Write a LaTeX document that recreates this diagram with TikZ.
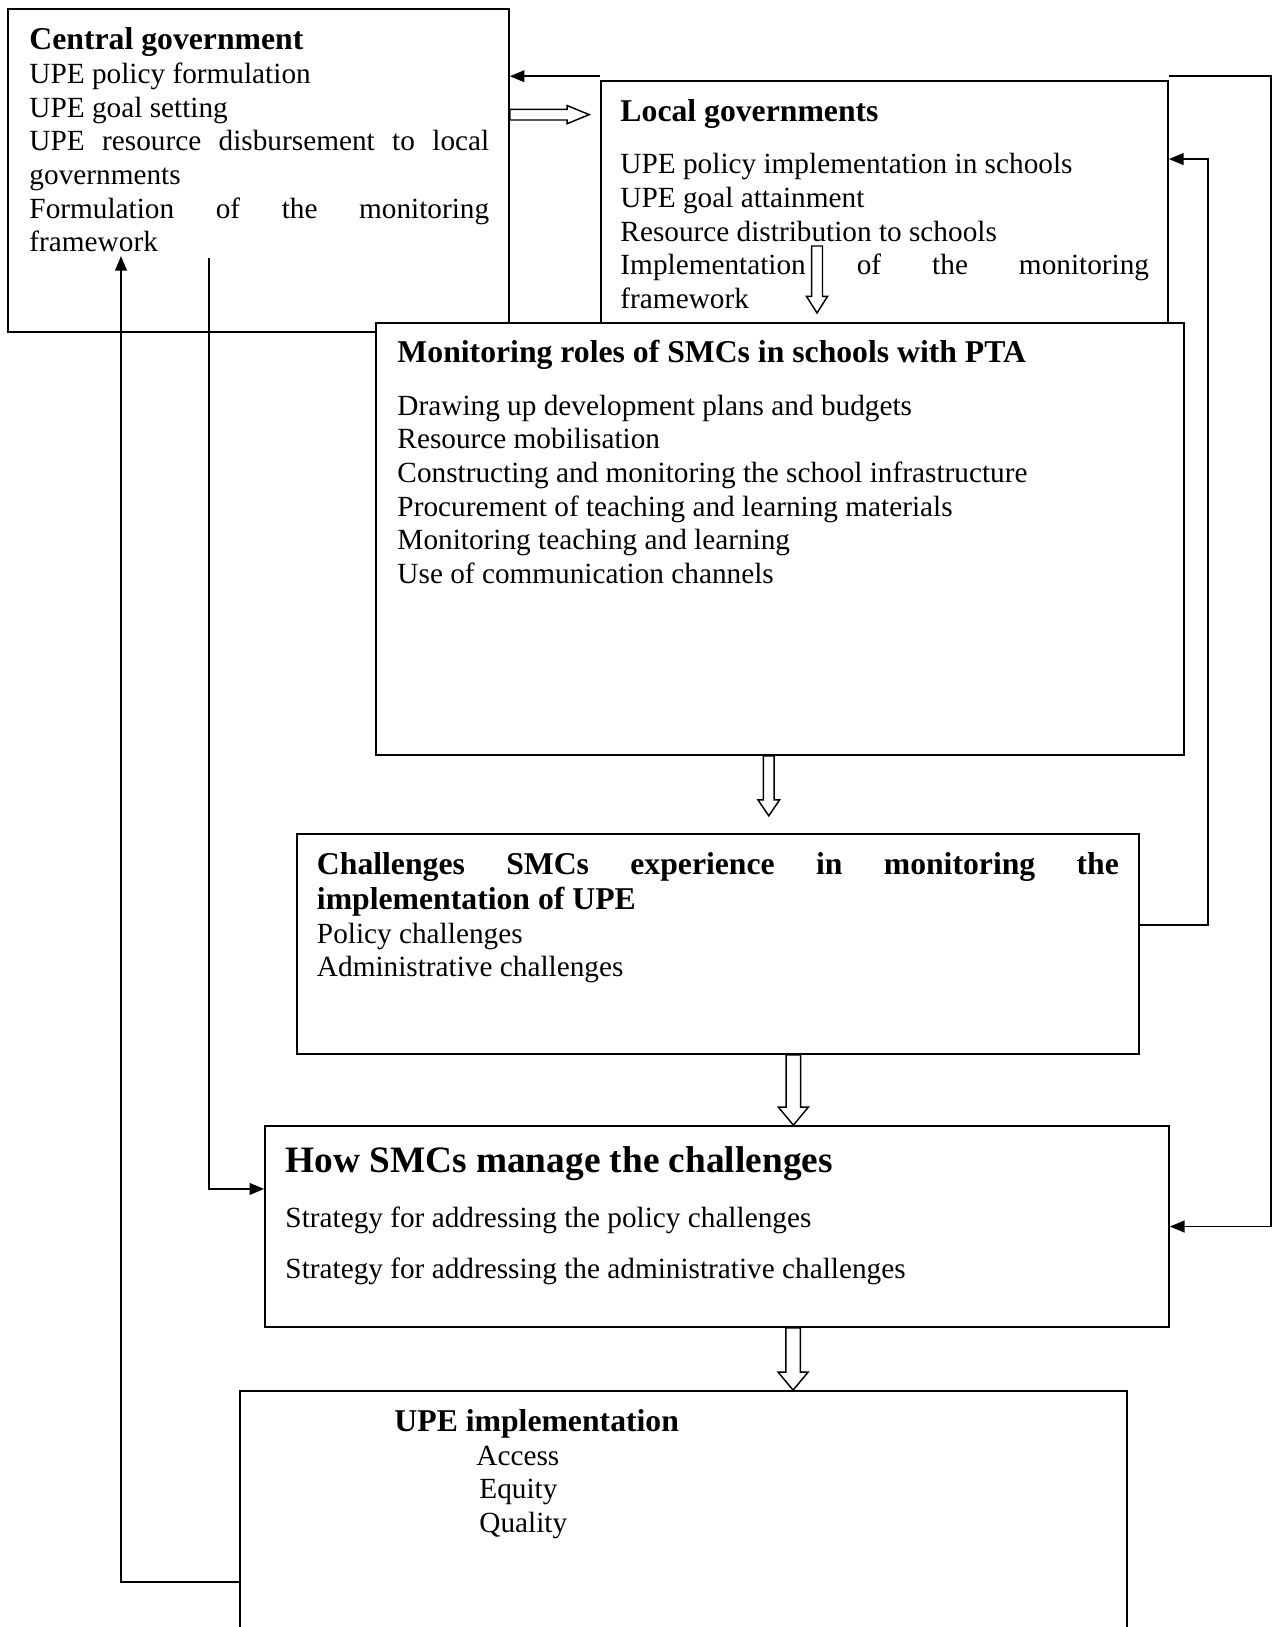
\documentclass[tikz,border=0pt]{standalone}
\usepackage{fontspec}
\setmainfont{Liberation Serif}
\usetikzlibrary{arrows.meta,calc,fit}
\setlength\parindent{0pt}
\hyphenpenalty=10000
\exhyphenpenalty=10000
\tolerance=10000
\newcommand\headfont{\fontsize{13}{13.8}\selectfont\bfseries}
% hollow block arrows: (start)(end){shaft half}{head half}{head length}
\def\hollowdown(#1)(#2)#3#4#5{\draw[hollow] let \p1=(#1), \p2=(#2) in (\x1-#3,\y1) -- (\x1-#3,\y2+#5) -- (\x1-#4,\y2+#5) -- (\x1,\y2) -- (\x1+#4,\y2+#5) -- (\x1+#3,\y2+#5) -- (\x1+#3,\y1) -- cycle;}
\def\hollowright(#1)(#2)#3#4#5{\draw[hollow] let \p1=(#1), \p2=(#2) in (\x1,\y1+#3) -- (\x2-#5,\y1+#3) -- (\x2-#5,\y1+#4) -- (\x2,\y1) -- (\x2-#5,\y1-#4) -- (\x2-#5,\y1-#3) -- (\x1,\y1-#3) -- cycle;}

\begin{document}
\begin{tikzpicture}[x=0.41pt, y=-0.41pt,
    box/.style={draw, line width=0.7pt, inner sep=0pt},
    txt/.style={inner sep=0pt, anchor=north west, align=justify, font=\fontsize{12}{13.8}\selectfont},
    fb/.style={line width=0.8pt, -{Triangle[length=6pt,width=4.8pt]}},
    hollow/.style={line width=0.6pt}]
    %%%%% START %%%%%
    \useasboundingbox (0,0) rectangle (1272,1627);

    \node[box, fit={(8,9) (509,332)}] (cg) {};
    \node[box, fit={(601,81) (1168,323)}] (lg) {};

    \coordinate (lgtl) at ([yshift=1.6pt]lg.north west);
    \draw[fb] (lgtl) -- (lgtl -| cg.east);
    \hollowright([yshift=22.9pt]cg.east)([xshift=-4.5pt]lg.west){2.2pt}{3.7pt}{9pt}

    \node[box, fill=white, fit={(376,323) (1184,755)}] (ms) {};
    \node[box, fit={(297,834) (1139,1054)}] (chal) {};
    \node[box, fit={(265,1126) (1169,1327)}] (how) {};
    \node[box, fit={(240,1391) (1127,1660)}] (upe) {};

    % texts
    \node[txt, text width=188.5pt] (cgtext) at (29,25.9) {{\headfont\strut Central government\par}
        UPE policy formulation\par
        UPE goal setting\par
        UPE resource disbursement to local governments\par
        Formulation of the monitoring framework};
    \node[txt, text width=216.7pt] (lgtext) at (620,97) {{\headfont\strut Local governments\par}\vspace{7.8pt}
        UPE policy implementation in schools\par
        UPE goal attainment\par
        Resource distribution to schools\par
        Implementation of the monitoring\linebreak framework};
    \node[txt, text width=320pt] (mstext) at (397,338.4) {{\headfont\strut Monitoring roles of SMCs in schools with PTA\par}\vspace{7.8pt}
        Drawing up development plans and budgets\par
        Resource mobilisation\par
        Constructing and monitoring the school infrastructure\par
        Procurement of teaching and learning materials\par
        Monitoring teaching and learning\par
        Use of communication channels};
    \node[txt, text width=328.8pt] (chaltext) at (316.5,849.4) {{\fontsize{13}{14.4}\selectfont\bfseries\strut Challenges SMCs experience in monitoring the implementation of UPE\par}
        Policy challenges\par
        Administrative challenges};
    \node[txt, text width=330pt] (howtext) at (285,1142) {{\fontsize{15.3}{17.6}\selectfont\bfseries\strut How SMCs manage the challenges\par}\vspace{8.8pt}
        Strategy for addressing the policy challenges\par\vspace{7.1pt}
        Strategy for addressing the administrative challenges};
    \node[txt, text width=250pt] (upetext) at (394,1407.4) {{\headfont\strut UPE implementation\par}
        \hspace*{33.6pt}Access\par
        \hspace*{34.8pt}Equity\par
        \hspace*{34.8pt}Quality};

    % block arrows
    \coordinate (lgdownA) at (817,246);
    \coordinate (lgdownB) at (817,313);
    \hollowdown(lgdownA)(lgdownB){2.25pt}{4.3pt}{6.8pt}
    \hollowdown([xshift=-4.6pt]ms.south)([yshift=7.1pt]chal.north){2.2pt}{4.4pt}{6.5pt}
    \hollowdown([xshift=30.9pt]chal.south)(how.north){3pt}{6.15pt}{7.4pt}
    \hollowdown([xshift=31.2pt]how.south)(upe.north){3pt}{6.15pt}{7.4pt}

    % feedback loops
    \draw[fb] ([yshift=1.6pt]lg.north east) -- ++(102,0) |- (how.east);
    \draw[fb] ([yshift=7.8pt]chal.east) -- ++(68,0) |- ([yshift=17.6pt]lg.east);

    \coordinate (cgfoot) at (209,258);
    \draw[fb] (cgfoot) |- ([yshift=15.4pt]how.west);
    \coordinate (cgin) at (121,256);
    \draw[fb] (upe.west |- 0,1582) -| (cgin);
    %%%%% END %%%%%
\end{tikzpicture}
\end{document}
